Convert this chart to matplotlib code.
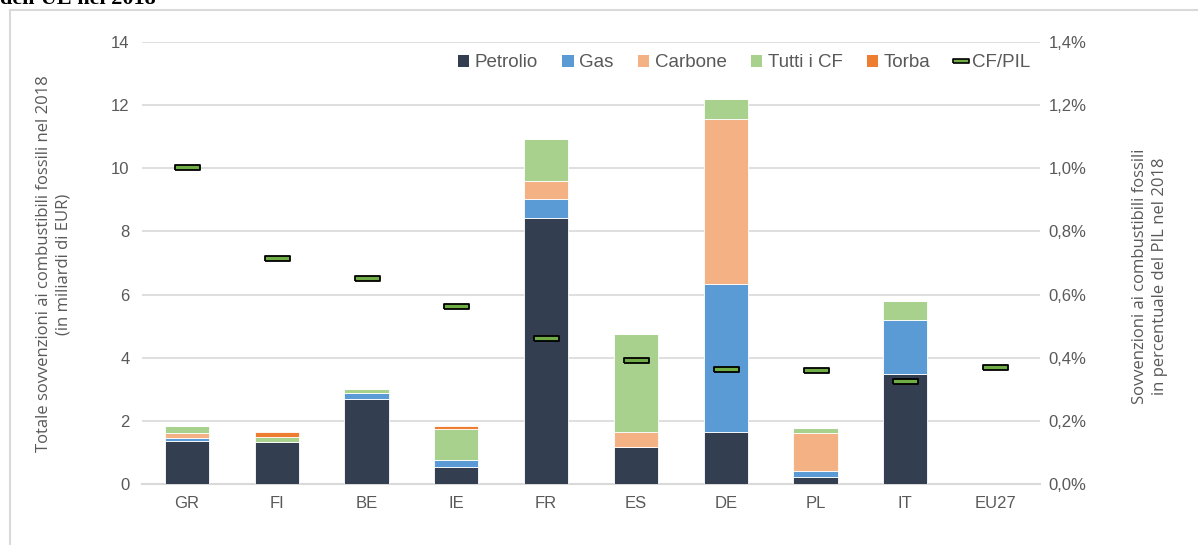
import matplotlib
matplotlib.use("Agg")
import matplotlib.pyplot as plt
from matplotlib.lines import Line2D
from matplotlib.patches import Patch
from matplotlib.ticker import FuncFormatter
import numpy as np

# data
paesi = ["GR", "FI", "BE", "IE", "FR", "ES", "DE", "PL", "IT", "EU27"]
petrolio = [1.37, 1.33, 2.69, 0.54, 8.43, 1.16, 1.65, 0.22, 3.50, 0]
gas      = [0.09, 0.00, 0.20, 0.22, 0.60, 0.00, 4.68, 0.20, 1.69, 0]
carbone  = [0.17, 0.00, 0.00, 0.00, 0.57, 0.48, 5.23, 1.18, 0.00, 0]
tutti_cf = [0.21, 0.15, 0.11, 0.97, 1.33, 3.10, 0.65, 0.18, 0.60, 0]
torba    = [0.00, 0.18, 0.00, 0.11, 0.00, 0.00, 0.00, 0.00, 0.00, 0]
cf_pil   = [1.003, 0.715, 0.652, 0.564, 0.461, 0.393, 0.365, 0.360, 0.327, 0.370]  # in %

serie = [("Petrolio", petrolio, "#333F50"),
         ("Gas", gas, "#5B9BD5"),
         ("Carbone", carbone, "#F4B183"),
         ("Tutti i CF", tutti_cf, "#A9D18E"),
         ("Torba", torba, "#ED7D31")]

testo = "#595959"
griglia = "#D9D9D9"

fig = plt.figure(figsize=(11.98, 5.45), dpi=100)
ax = fig.add_axes([142/1198, 1-484/545, 898/1198, 442/545])
ax2 = ax.twinx()

x = np.arange(len(paesi))
base = np.zeros(len(paesi))
for nome, vals, col in serie:
    vals = np.array(vals)
    ax.bar(x, vals, 0.49, bottom=base, color=col, edgecolor="white", linewidth=0.6, zorder=3)
    base = base + vals

# CF/PIL markers (flat rectangle)
rett = [(-1, -0.2), (1, -0.2), (1, 0.2), (-1, 0.2), (-1, -0.2)]
ax2.plot(x, cf_pil, ls="", marker=rett, markersize=18, markerfacecolor="#70AD47",
         markeredgecolor="black", markeredgewidth=1.3, zorder=5)

ax.set_xlim(-0.5, len(paesi)-0.5)
ax.set_ylim(0, 14)
ax.set_yticks(range(0, 15, 2))
ax2.set_ylim(0, 1.4)
ax2.set_yticks(np.arange(0, 1.41, 0.2))
ax2.yaxis.set_major_formatter(FuncFormatter(lambda v, p: f"{v:.1f}%".replace(".", ",")))

ax.set_xticks(x)
ax.set_xticklabels(paesi)
ax.yaxis.grid(True, color=griglia, lw=1.2, zorder=0)
ax.set_axisbelow(True)
for a in (ax, ax2):
    for s in a.spines.values():
        s.set_visible(False)
    a.tick_params(length=0, colors=testo, labelsize=12)
    for lab in a.get_xticklabels() + a.get_yticklabels():
        lab.set_fontfamily("Liberation Sans")
ax.spines["bottom"].set_visible(True)
ax.spines["bottom"].set_color(griglia)
ax.spines["bottom"].set_linewidth(1.5)
ax.tick_params(axis="x", pad=9)
ax.tick_params(axis="y", pad=9)
ax2.tick_params(axis="y", pad=6)

fig.text(54/1198, 1-264/545, "Totale sovvenzioni ai combustibili fossili nel 2018\n(in miliardi di EUR)",
         rotation=90, ha="center", va="center", color=testo, fontsize=12,
         fontfamily="Open Sans", linespacing=1.3)
fig.text(1150/1198, 1-276/545, "Sovvenzioni ai combustibili fossili\nin percentuale del PIL nel 2018",
         rotation=90, ha="center", va="center", color=testo, fontsize=12,
         fontfamily="Open Sans", linespacing=1.3)

# legend
maniglie = [Patch(facecolor=c, edgecolor="none", label=n) for n, v, c in serie]
maniglie.append(Line2D([], [], ls="", marker=rett, markersize=12, markerfacecolor="#70AD47",
                       markeredgecolor="black", markeredgewidth=1.2, label="CF/PIL"))
leg = ax.legend(handles=maniglie, loc="upper right", bbox_to_anchor=(1.008, 1.01), ncol=6,
                frameon=False, handlelength=0.6, handleheight=0.6, handletextpad=0.3,
                columnspacing=1.3, prop={"family": "Liberation Sans", "size": 13.5})
for t in leg.get_texts():
    t.set_color(testo)

# frame around the chart and cut title
fig.add_artist(Line2D([10/1198, 10/1198], [0, 1-10/545], color=griglia, lw=1.5))
fig.add_artist(Line2D([10/1198, 1197/1198], [1-10/545, 1-10/545], color=griglia, lw=1.5))
fig.text(0.0, 1-4/545, "dell'UE nel 2018", ha="left", va="baseline", fontsize=16,
         fontweight="bold", fontfamily="Liberation Serif", color="black")

fig.savefig("out.png", dpi=100, facecolor="white")
